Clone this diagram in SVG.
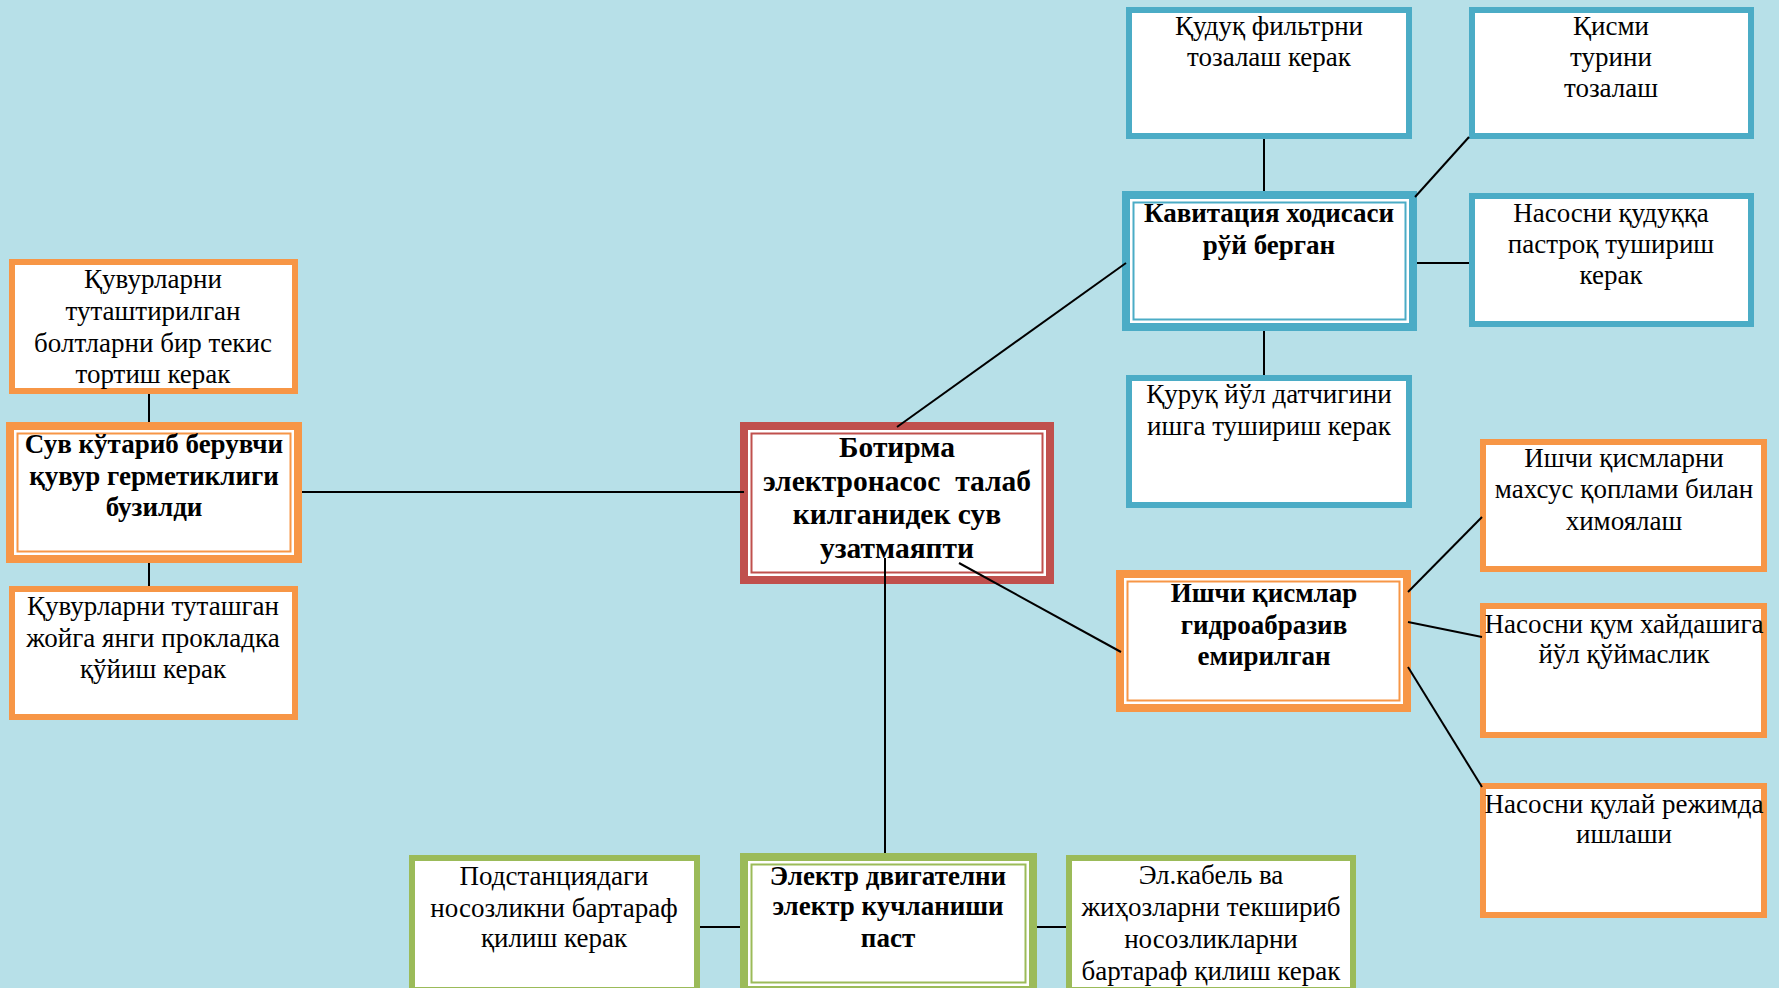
<svg xmlns="http://www.w3.org/2000/svg" width="1779" height="988" viewBox="0 0 1779 988">
<style>
.bg{fill:#B7E0E8}
.lf{fill:#fff;stroke-width:6}
.do{fill:#fff;stroke-width:8}
.di{fill:none;stroke-width:2}
.blue{stroke:#4BACC6}
.or{stroke:#F79646}
.gr{stroke:#9BBB59}
.rd{stroke:#C0504D}
.t{font-family:"Liberation Serif","Times New Roman",serif;font-size:27px;text-anchor:middle;fill:#000}
.b{font-weight:bold}
.c{font-size:29.5px;white-space:pre}
.ln{stroke:#000;stroke-width:2;fill:none}
</style>
<rect class="bg" x="0" y="0" width="1779" height="988"/>

<g id="n-kuduk">
<rect class="lf blue" x="1129" y="10" width="280" height="126"/>
<text class="t" x="1269" y="35">Қудуқ фильтрни</text>
<text class="t" x="1269" y="66">тозалаш керак</text>
</g>
<g id="n-kismi">
<rect class="lf blue" x="1472" y="10" width="279" height="126"/>
<text class="t" x="1611" y="35">Қисми</text>
<text class="t" x="1611" y="66">турини</text>
<text class="t" x="1611" y="97">тозалаш</text>
</g>
<g id="n-kav">
<rect class="do blue" x="1126" y="195" width="287" height="132"/>
<rect class="di blue" x="1133.5" y="202.5" width="272" height="117"/>
<text class="t b" x="1269" y="222">Кавитация ходисаси</text>
<text class="t b" x="1269" y="254">рўй берган</text>
</g>
<g id="n-nasos-kuduk">
<rect class="lf blue" x="1472" y="196" width="279" height="128"/>
<text class="t" x="1611" y="222">Насосни қудуққа</text>
<text class="t" x="1611" y="253">пастроқ тушириш</text>
<text class="t" x="1611" y="284">керак</text>
</g>
<g id="n-kuruk">
<rect class="lf blue" x="1129" y="378" width="280" height="127"/>
<text class="t" x="1269" y="403">Қуруқ йўл датчигини</text>
<text class="t" x="1269" y="435">ишга тушириш керак</text>
</g>
<g id="n-ishchi-mahsus">
<rect class="lf or" x="1483" y="442" width="281" height="127"/>
<text class="t" x="1624" y="467">Ишчи қисмларни</text>
<text class="t" x="1624" y="498">махсус қоплами билан</text>
<text class="t" x="1624" y="530">химоялаш</text>
</g>
<g id="n-ishchi">
<rect class="do or" x="1120" y="574" width="287" height="134"/>
<rect class="di or" x="1127.5" y="581.5" width="272" height="119"/>
<text class="t b" x="1264" y="602">Ишчи қисмлар</text>
<text class="t b" x="1264" y="634">гидроабразив</text>
<text class="t b" x="1264" y="665">емирилган</text>
</g>
<g id="n-nasos-kum">
<rect class="lf or" x="1483" y="606" width="281" height="129"/>
<text class="t" x="1624" y="633">Насосни қум хайдашига</text>
<text class="t" x="1624" y="663">йўл қўймаслик</text>
</g>
<g id="n-nasos-kulay">
<rect class="lf or" x="1483" y="786" width="281" height="129"/>
<text class="t" x="1624" y="813">Насосни қулай режимда</text>
<text class="t" x="1624" y="843">ишлаши</text>
</g>
<g id="n-center">
<rect class="do rd" x="744" y="426" width="306" height="154"/>
<rect class="di rd" x="751.5" y="433.5" width="291" height="139"/>
<text class="t b c" x="897" y="457">Ботирма</text>
<text class="t b c" x="897" y="491" xml:space="preserve">электронасос  талаб</text>
<text class="t b c" x="897" y="524">килганидек сув</text>
<text class="t b c" x="897" y="558">узатмаяпти</text>
</g>
<g id="n-kuvur1">
<rect class="lf or" x="12" y="262" width="283" height="129"/>
<text class="t" x="153" y="288">Қувурларни</text>
<text class="t" x="153" y="320">туташтирилган</text>
<text class="t" x="153" y="352">болтларни бир текис</text>
<text class="t" x="153" y="383">тортиш керак</text>
</g>
<g id="n-suv">
<rect class="do or" x="10" y="426" width="288" height="133"/>
<rect class="di or" x="17.5" y="433.5" width="273" height="118"/>
<text class="t b" x="154" y="453">Сув кўтариб берувчи</text>
<text class="t b" x="154" y="485">қувур герметиклиги</text>
<text class="t b" x="154" y="516">бузилди</text>
</g>
<g id="n-kuvur2">
<rect class="lf or" x="12" y="589" width="283" height="128"/>
<text class="t" x="153" y="615">Қувурларни туташган</text>
<text class="t" x="153" y="647">жойга янги прокладка</text>
<text class="t" x="153" y="678">қўйиш керак</text>
</g>
<g id="n-podst">
<rect class="lf gr" x="412" y="858" width="285" height="132"/>
<text class="t" x="554" y="885">Подстанциядаги</text>
<text class="t" x="554" y="917">носозликни бартараф</text>
<text class="t" x="554" y="947">қилиш керак</text>
</g>
<g id="n-elektr">
<rect class="do gr" x="744" y="857" width="289" height="133"/>
<rect class="di gr" x="751.5" y="864.5" width="274" height="118"/>
<text class="t b" x="888" y="885">Электр двигателни</text>
<text class="t b" x="888" y="915">электр кучланиши</text>
<text class="t b" x="888" y="947">паст</text>
</g>
<g id="n-kabel">
<rect class="lf gr" x="1069" y="858" width="284" height="132"/>
<text class="t" x="1211" y="884">Эл.кабель ва</text>
<text class="t" x="1211" y="916">жиҳозларни текшириб</text>
<text class="t" x="1211" y="948">носозликларни</text>
<text class="t" x="1211" y="980">бартараф қилиш керак</text>
</g>

<g id="connectors">
<line class="ln" x1="1264" y1="139" x2="1264" y2="191"/>
<line class="ln" x1="1469" y1="137" x2="1415" y2="197"/>
<line class="ln" x1="1417" y1="263" x2="1469" y2="263"/>
<line class="ln" x1="1264" y1="331" x2="1264" y2="375"/>
<line class="ln" x1="897" y1="427" x2="1126" y2="263"/>
<line class="ln" x1="959" y1="563" x2="1121" y2="652"/>
<line class="ln" x1="885" y1="558" x2="885" y2="853"/>
<line class="ln" x1="302" y1="492" x2="744" y2="492"/>
<line class="ln" x1="149" y1="394" x2="149" y2="422"/>
<line class="ln" x1="149" y1="563" x2="149" y2="586"/>
<line class="ln" x1="1408" y1="592" x2="1482" y2="517"/>
<line class="ln" x1="1408" y1="622" x2="1482" y2="637"/>
<line class="ln" x1="1408" y1="667" x2="1482" y2="787"/>
<line class="ln" x1="700" y1="927" x2="740" y2="927"/>
<line class="ln" x1="1037" y1="927" x2="1066" y2="927"/>
</g>
</svg>
